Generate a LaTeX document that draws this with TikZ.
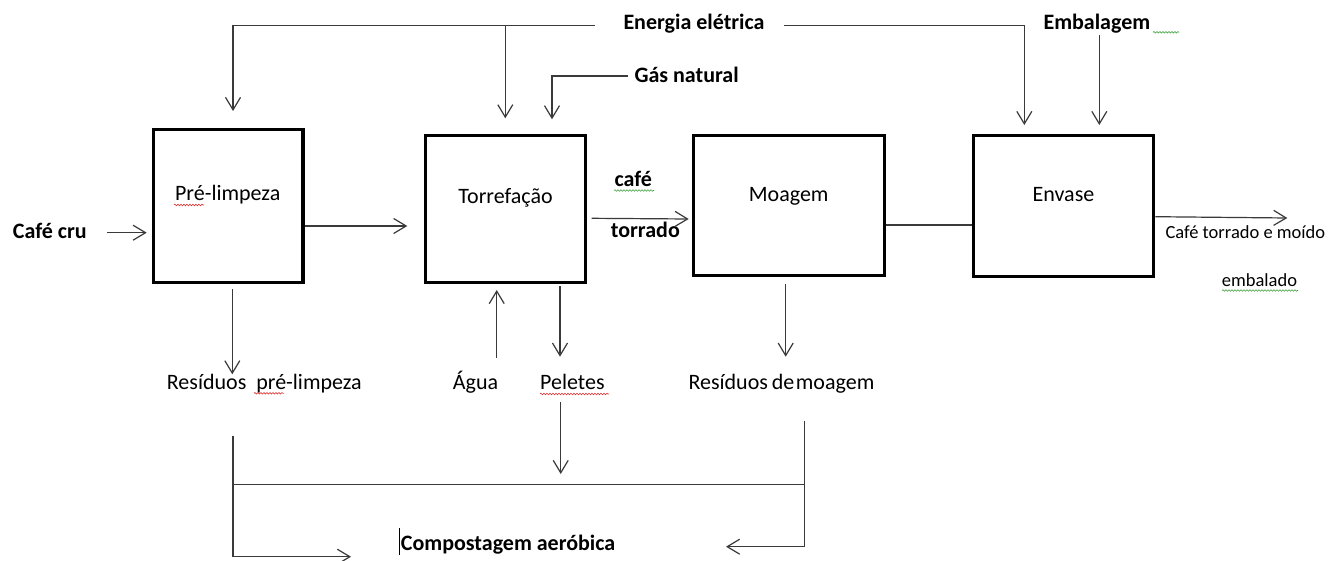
\documentclass[tikz,border=0pt]{standalone}
\usepackage{fontspec}
\setmainfont{Carlito}
\usetikzlibrary{arrows.meta,decorations.pathmorphing}
\definecolor{linegray}{HTML}{3A3A3A}
\definecolor{spellred}{HTML}{E03030}
\definecolor{spellgreen}{HTML}{3CA03C}
\begin{document}
\begin{tikzpicture}[x=1pt,y=-1pt,
  stage/.style={draw=black,line width=3.2pt,inner sep=0pt,fill=white},
  flow/.style={draw=linegray,line width=1.2pt},
  arr/.style={flow,-{Straight Barb[length=12.5pt,width=15pt,line width=1.2pt]}},
  lbl/.style={inner sep=0pt,anchor=base west,text=black,font=\fontsize{22}{26}\selectfont},
  blbl/.style={lbl,font=\bfseries\fontsize{22}{26}\selectfont},
  slbl/.style={lbl,font=\fontsize{18.5}{22}\selectfont},
  btext/.style={inner sep=0pt,anchor=base,font=\fontsize{22}{26}\selectfont},
  squig/.style={line width=0.6pt,decorate,decoration={snake,amplitude=0.8pt,segment length=3pt}},
]
\useasboundingbox[fill=white] (0,0) rectangle (1329,561);

% process stages
\node[stage,minimum width=149.3pt,minimum height=153.6pt] (pre) at (228.3,206) {};
\node[stage,minimum width=160.2pt,minimum height=147pt] (tor) at (505.6,209.3) {};
\node[stage,minimum width=191.3pt,minimum height=139.7pt] (moa) at (789.2,205.7) {};
\node[stage,minimum width=180pt,minimum height=140.4pt] (env) at (1063.8,206) {};

\node[btext] (tpre) at (227.7,201) {Pré-limpeza};
\node[btext] (ttor) at (505.5,203.3) {Torrefação};
\node[btext] (tmoa) at (788.7,201.7) {Moagem};
\node[btext] (tenv) at (1063.5,201.7) {Envase};

% inputs and outputs
\node[blbl] (energia) at (623.3,29.3) {Energia elétrica};
\node[blbl] (gas) at (634.3,82.3) {Gás natural};
\node[blbl] (embal) at (1043.3,29.3) {Embalagem};
\node[blbl] (cru) at (12.7,238.3) {Café cru};
\node[blbl] (cafe) at (614.3,186.7) {café};
\node[blbl] (torrado) at (610.7,237.7) {torrado};
\node[slbl] (saida) at (1165.3,238.3) {Café torrado e moído};
\node[slbl] (embalado) at (1221.7,286.7) {embalado};
\node[lbl] (respre) at (166.7,389) {Resíduos\ \ pré-limpeza};
\node[lbl] (agua) at (452.7,389) {Água};
\node[lbl] (pel) at (540,389) {Peletes};
\node[lbl] (resmoa) at (688.3,389) {Resíduos\kern-1pt\ de\kern-3.5pt\ moagem};
\node[blbl] (comp) at (400.7,550) {Compostagem aeróbica};

% spelling marks under words
\draw[spellred,squig] (174,205) -- (204,205);
\draw[spellred,squig] (254,393.3) -- (284,393.3);
\draw[spellred,squig] (540,394) -- (609,394);
\draw[spellgreen,squig] (614,190.5) -- (654,190.5);
\draw[spellgreen,squig] (1153,32.3) -- (1179,32.3);
\draw[spellgreen,squig] (1222,290.5) -- (1298,290.5);
% text cursor
\draw[black,line width=1.6pt] (399.3,528) -- (399.3,555);

% free ends of the connectors
\coordinate (eL) at (595,25.7);
\coordinate (eR) at (784,25.7);
\coordinate (preIn) at (233,111);
\coordinate (torE) at (505.3,25.7);
\coordinate (torIn) at (505.3,118.3);
\coordinate (envIn) at (1024.3,125);
\coordinate (gasL) at (628.3,76);
\coordinate (gasIn) at (552,119.3);
\coordinate (embTop) at (1099.3,35);
\coordinate (embIn) at (1099.3,125);
\coordinate (cruS) at (107.3,232.7);
\coordinate (cruIn) at (146.7,232.7);
\coordinate (outEnd) at (1287.3,218);
\coordinate (preDn) at (232.3,374.3);
\coordinate (aguaUp) at (496.7,357.7);
\coordinate (aguaIn) at (496.7,290);
\coordinate (pelDn) at (560,356.7);
\coordinate (moaDn) at (785.7,356.7);
\coordinate (pelS) at (560.7,401.7);
\coordinate (pelE) at (560.7,474);
\coordinate (busL) at (232.3,484.7);
\coordinate (busR) at (804.3,484.7);
\coordinate (lS) at (233,435.7);
\coordinate (lC) at (233,556.7);
\coordinate (lE) at (351,556.7);
\coordinate (rS) at (804.3,421);
\coordinate (rC) at (804.3,546.7);
\coordinate (rE) at (726,546.7);

% electric energy distribution
\draw[arr] (eL) -| (preIn);
\draw[arr] (torE) -- (torIn);
\draw[arr] (eR) -| (envIn);
\draw[arr] (gasL) -| (gasIn);
\draw[arr] (embTop) -- (embIn);

% main line
\draw[arr] (cruS) -- (cruIn);
\draw[arr] (pre.east |- 0,226) -- (407.3,226);
\draw[arr] (591.7,218.3) -- (688.7,219);
\draw[flow] (moa.east |- 0,225) -- (env.west |- 0,225);
\draw[arr] (env.east |- 0,216.7) -- (outEnd);

% residues
\draw[arr] (232.3,289) -- (preDn);
\draw[arr] (aguaUp) -- (aguaIn);
\draw[arr] (tor.south -| pelDn) ++(0,1.6) -- (pelDn);
\draw[arr] (moa.south -| moaDn) ++(0,7) -- (moaDn);
\draw[arr] (pelS) -- (pelE);
\draw[flow] (busL) -- (busR);
\draw[arr] (lS) -- (lC) -- (lE);
\draw[arr] (rS) -- (rC) -- (rE);
\end{tikzpicture}
\end{document}
